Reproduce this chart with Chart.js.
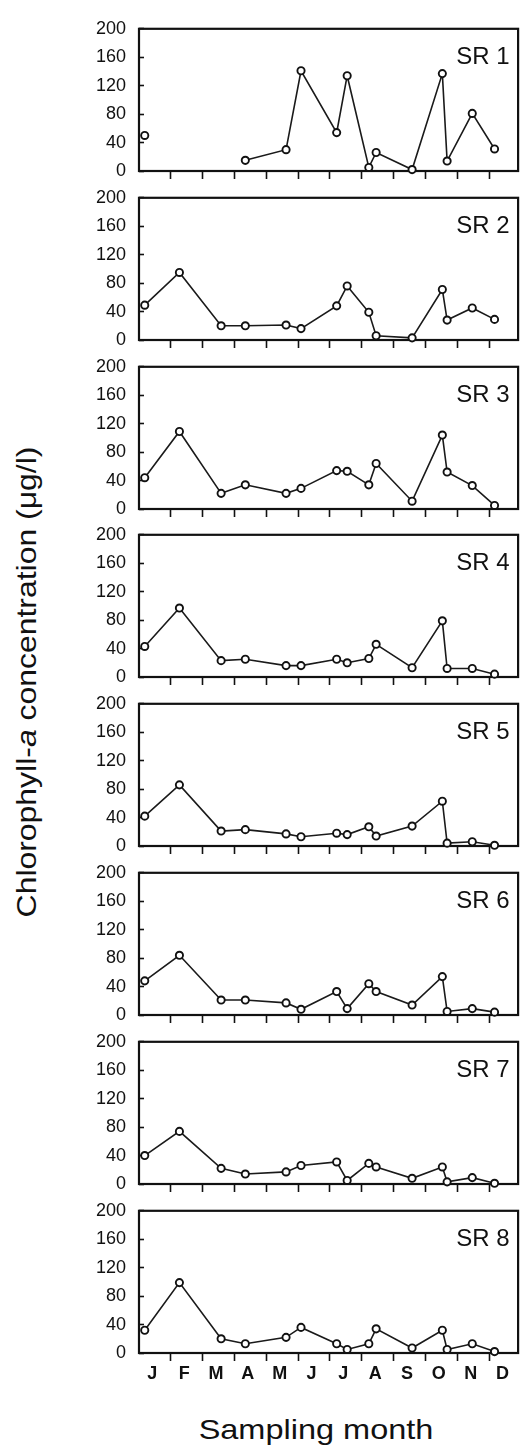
<!DOCTYPE html>
<html>
<head>
<meta charset="utf-8">
<script src="https://cdn.jsdelivr.net/npm/chart.js@4/dist/chart.umd.min.js"></script>
<style>
html,body{margin:0;padding:0;background:#fff;}
body{width:524px;height:1450px;position:relative;overflow:hidden;font-family:"Liberation Sans",Arial,sans-serif;color:#111;}
canvas.panel{position:absolute;left:0;width:524px;height:200px;}
#ytitle{position:absolute;left:27px;top:682px;font-size:28px;line-height:28px;white-space:nowrap;transform:translate(-50%,-50%) rotate(-90deg) scaleX(1.14);}
#xtitle{position:absolute;left:316px;top:1416px;font-size:28px;line-height:28px;white-space:nowrap;transform:translateX(-50%) scaleX(1.16);}
</style>
</head>
<body>
<div id="ytitle">Chlorophyll-<i>a</i> concentration (μg/l)</div>
<div id="xtitle">Sampling month</div>
<script>
// ---- data ----
const monthLabels = ['J','F','M','A','M','J','J','A','S','O','N','D'];
const sampleMonths = [0.18, 1.27, 2.58, 3.34, 4.62, 5.09, 6.21, 6.54, 7.22, 7.45, 8.58, 9.53, 9.68, 10.47, 11.17];
const siteNames = ['SR 1','SR 2','SR 3','SR 4','SR 5','SR 6','SR 7','SR 8'];
const sr1 = [50, null, null, 15, 30, 141, 54, 134, 5, 26, 2, 137, 14, 81, 31];
const sr2 = [49, 95, 20, 20, 21, 16, 48, 76, 39, 6, 3, 71, 28, 45, 29];
const sr3 = [44, 109, 22, 34, 22, 29, 54, 53, 34, 64, 11, 104, 52, 33, 5];
const sr4 = [43, 97, 23, 25, 16, 16, 25, 20, 26, 46, 13, 79, 12, 12, 4];
const sr5 = [42, 86, 21, 23, 17, 13, 18, 16, 27, 14, 28, 63, 4, 6, 1];
const sr6 = [48, 84, 21, 21, 17, 8, 33, 9, 44, 33, 14, 54, 5, 9, 4];
const sr7 = [40, 74, 22, 14, 17, 26, 31, 5, 29, 24, 8, 24, 3, 9, 1];
const sr8 = [32, 99, 20, 13, 22, 36, 13, 5, 13, 34, 7, 32, 5, 13, 2];
const yTickValues = [0, 40, 80, 120, 160, 200];
const series = [sr1, sr2, sr3, sr4, sr5, sr6, sr7, sr8];

// ---- drawing ----
const FONT = '"Liberation Sans", Arial, sans-serif';
const INK = '#111';
const LABEL_OFF = 0.42;

const framePlugin = {
  id: 'frame',
  beforeDatasetsDraw(chart) {
    const {ctx, chartArea: a} = chart;
    ctx.save();
    ctx.strokeStyle = INK;
    ctx.lineWidth = 2.2;
    ctx.strokeRect(a.left, a.top, a.right - a.left, a.bottom - a.top);
    ctx.restore();
  }
};
const namePlugin = {
  id: 'sitename',
  afterDatasetsDraw(chart, args, opts) {
    const {ctx, chartArea: a} = chart;
    ctx.save();
    ctx.font = '24px ' + FONT;
    ctx.fillStyle = INK;
    ctx.textAlign = 'right';
    ctx.textBaseline = 'alphabetic';
    ctx.fillText(opts.text, a.right - 8.5, a.top + 35);
    ctx.restore();
  }
};

series.forEach((vals, i) => {
  const isLast = i === series.length - 1;
  const cv = document.createElement('canvas');
  cv.className = 'panel';
  cv.width = 524; cv.height = 200;
  cv.style.top = Math.round(168.8 * i) + 'px';
  document.body.appendChild(cv);

  const xTickVals = [];
  for (let k = 1; k <= 11; k++) xTickVals.push(k);
  if (isLast) monthLabels.forEach((l, k) => xTickVals.push(k + LABEL_OFF));
  xTickVals.sort((a, b) => a - b);

  new Chart(cv, {
    type: 'line',
    data: {
      datasets: [{
        data: sampleMonths.map((m, j) => ({x: m, y: vals[j]})),
        borderColor: '#1a1a1a',
        borderWidth: 1.6,
        pointRadius: 3.6,
        pointBorderWidth: 1.9,
        pointBorderColor: INK,
        pointBackgroundColor: '#fff',
        spanGaps: false,
        tension: 0,
        clip: false
      }]
    },
    options: {
      responsive: false,
      animation: false,
      devicePixelRatio: 1,
      layout: {padding: {top: 17, right: 1.5, bottom: 0, left: 0}},
      plugins: {
        legend: {display: false},
        tooltip: {enabled: false},
        sitename: {text: siteNames[i]}
      },
      scales: {
        x: {
          type: 'linear',
          min: 0,
          max: 11.91,
          afterBuildTicks: s => { s.ticks = xTickVals.map(v => ({value: v})); },
          afterFit: s => { s.height = 29; },
          border: {display: false},
          grid: {
            drawOnChartArea: false,
            tickLength: 8,
            tickWidth: 1.6,
            tickColor: ctx => (ctx.tick && Number.isInteger(ctx.tick.value)) ? INK : 'rgba(0,0,0,0)'
          },
          ticks: {
            autoSkip: false,
            maxRotation: 0,
            padding: 2,
            color: INK,
            font: {family: FONT, size: 18, weight: 'bold'},
            callback: v => {
              if (Number.isInteger(v)) return '';
              const k = Math.round(v - LABEL_OFF);
              return monthLabels[k] || '';
            }
          }
        },
        y: {
          min: 0,
          max: 200,
          afterBuildTicks: s => { s.ticks = yTickValues.map(v => ({value: v})); },
          afterFit: s => { s.width = 139; },
          border: {display: false},
          grid: {drawOnChartArea: false, tickLength: -5, tickWidth: 1.6, tickColor: INK},
          ticks: {
            autoSkip: false,
            padding: 18,
            color: INK,
            font: {family: FONT, size: 18}
          }
        }
      }
    },
    plugins: [framePlugin, namePlugin]
  });
});
</script>
</body>
</html>
